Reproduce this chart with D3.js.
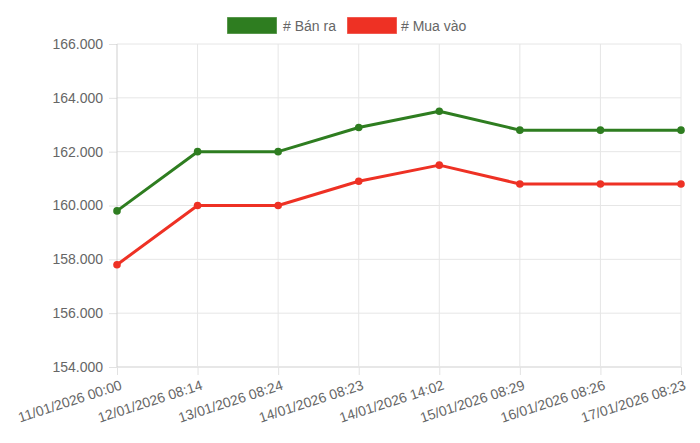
<!DOCTYPE html>
<html><head><meta charset="utf-8">
<script src="https://cdn.jsdelivr.net/npm/d3@7"></script>
<style>body{margin:0;background:#fff;}svg{display:block;font-family:"Liberation Sans",Arial,sans-serif;}</style>
</head><body>
<svg id="c" width="700" height="443"></svg>
<script>
const categories = ["11/01/2026 00:00","12/01/2026 08:14","13/01/2026 08:24","14/01/2026 08:23","14/01/2026 14:02","15/01/2026 08:29","16/01/2026 08:26","17/01/2026 08:23"];
const banRa = [159.8,162.0,162.0,162.9,163.5,162.8,162.8,162.8];
const muaVao = [157.8,160.0,160.0,160.9,161.5,160.8,160.8,160.8];
const yTicks = [154,156,158,160,162,164,166];
const seriesNames = ["# Bán ra","# Mua vào"];
const seriesColors = ["#2e7d20","#ee3124"];

const svg = d3.select("#c");
const L=117, R=681, T=44, B=367;
const x = d3.scalePoint().domain(categories).range([L,R]);
const y = d3.scaleLinear().domain([154,166]).range([B,T]);

const yAxis = d3.axisLeft(y).tickValues(yTicks).tickSize(8).tickPadding(6).tickFormat(v=>v.toFixed(3));
const gy = svg.append("g").attr("transform",`translate(${L},0)`).call(yAxis);
gy.select(".domain").remove();
gy.selectAll("line").attr("stroke","#e2e2e2");
gy.selectAll("text").attr("fill","#666").style("font-size","14px");
svg.append("g").selectAll("line").data(yTicks).join("line")
  .attr("x1",L).attr("x2",R).attr("y1",d=>y(d)).attr("y2",d=>y(d))
  .attr("stroke",(d,i)=>d===154?"#cfcfcf":"#e6e6e6");

const xAxis = d3.axisBottom(x).tickSize(8).tickPadding(4);
const gx = svg.append("g").attr("transform",`translate(0,${B})`).call(xAxis);
gx.select(".domain").remove();
gx.selectAll("line").attr("stroke","#e2e2e2");
gx.selectAll("text").attr("fill","#666").style("font-size","14px")
  .attr("text-anchor","end").attr("dy","0.35em")
  .attr("transform","translate(0,6) rotate(-18)");
svg.append("g").selectAll("line").data(categories).join("line")
  .attr("x1",d=>x(d)).attr("x2",d=>x(d)).attr("y1",T).attr("y2",B)
  .attr("stroke",(d,i)=>i===0?"#cfcfcf":"#e6e6e6");

const series=[banRa,muaVao];
const line = d3.line().x((d,i)=>x(categories[i])).y(d=>y(d));
series.forEach((s,k)=>{
  svg.append("path").datum(s).attr("d",line).attr("fill","none")
    .attr("stroke",seriesColors[k]).attr("stroke-width",3).attr("stroke-linejoin","round");
  svg.append("g").selectAll("circle").data(s).join("circle")
    .attr("cx",(d,i)=>x(categories[i])).attr("cy",d=>y(d)).attr("r",3.8)
    .attr("fill",seriesColors[k]);
});

const lg = [{x:227,tx:283},{x:347,tx:401}];
seriesNames.forEach((n,k)=>{
  svg.append("rect").attr("x",lg[k].x+0.5).attr("y",17.5).attr("width",49).attr("height",16)
    .attr("fill",seriesColors[k]).attr("stroke",seriesColors[k]).attr("stroke-opacity",0.6);
  svg.append("text").attr("x",lg[k].tx).attr("y",26).attr("dy","0.35em")
    .attr("fill","#666").style("font-size","14px").text(n);
});
</script>
</body></html>
